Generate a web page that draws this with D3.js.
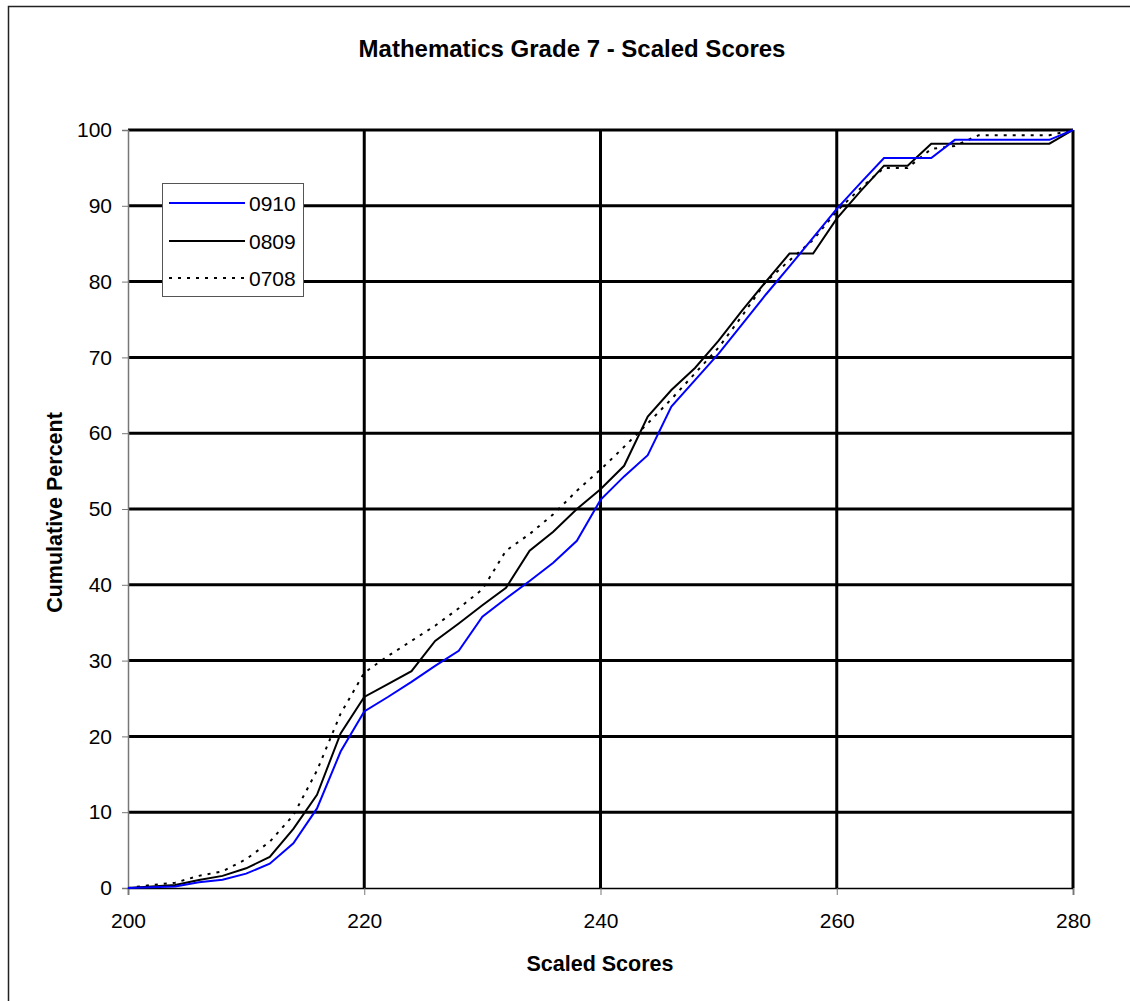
<!DOCTYPE html>
<html>
<head>
<meta charset="utf-8">
<script src="https://cdn.jsdelivr.net/npm/d3@7"></script>
<style>
  html, body { margin: 0; padding: 0; background: #fff; }
  svg { display: block; font-family: "Liberation Sans", Arial, sans-serif; }
</style>
</head>
<body>
<svg id="chart" width="1130" height="1001"></svg>
<script>
// ---- Data ----
const scores = [200,202,204,206,208,210,212,214,216,218,220,222,224,226,228,230,232,234,236,238,240,
                242,244,246,248,250,252,254,256,258,260,262,264,266,268,270,272,274,276,278,280];
const s0910 = [0,0.1,0.2,0.75,1.1,1.9,3.2,5.9,10.5,18.0,23.3,25.2,27.2,29.3,31.3,35.8,38.2,40.5,42.9,45.8,51.2,
               54.3,57.1,63.5,67.0,70.5,74.4,78.3,82.0,85.8,89.6,93.0,96.3,96.3,96.3,98.7,98.7,98.7,98.7,98.7,100];
const s0809 = [0,0.2,0.4,1.05,1.6,2.6,4.1,7.8,12.3,20.4,25.2,26.9,28.6,32.6,34.9,37.3,39.6,44.5,47.0,50.0,52.6,
               55.7,62.2,65.7,68.6,72.2,76.2,80.0,83.7,83.7,88.3,91.9,95.3,95.3,98.2,98.2,98.2,98.2,98.2,98.2,100];
const s0708 = [0,0.4,0.7,1.6,2.2,3.8,6.1,9.6,15.5,23.0,28.4,30.6,32.6,34.6,36.9,39.4,44.5,46.7,49.3,52.4,55.2,
               58.2,61.3,64.5,67.9,71.3,75.5,80.0,82.8,85.5,89.3,92.3,95.0,95.0,97.5,97.9,99.3,99.3,99.3,99.3,100];
const seriesNames = ["0910","0809","0708"];
const xTicks = [200,220,240,260,280];
const yTicks = [0,10,20,30,40,50,60,70,80,90,100];
const titleText = "Mathematics Grade 7 - Scaled Scores";
const xTitle = "Scaled Scores";
const yTitle = "Cumulative Percent";

// ---- Layout ----
const svg = d3.select("#chart");
const L = 128, R = 1073, T = 130, B = 888;
const x = d3.scaleLinear().domain([200,280]).range([L,R]);
const y = d3.scaleLinear().domain([0,100]).range([B,T]);

svg.append("rect").attr("width",1130).attr("height",1001).attr("fill","#fff");
// outer frame
svg.append("rect").attr("x",8.5).attr("y",6.5).attr("width",1140).attr("height",1010)
  .attr("fill","none").attr("stroke","#222").attr("stroke-width",1.5);

// gridlines
const g = svg.append("g");
g.selectAll("line.hg").data(yTicks.filter(d => d > 0)).join("line")
  .attr("x1",L).attr("x2",R).attr("y1",d=>y(d)).attr("y2",d=>y(d))
  .attr("stroke","#000").attr("stroke-width",3);
g.selectAll("line.vg").data(xTicks.filter(d => d > 200)).join("line")
  .attr("x1",d=>x(d)).attr("x2",d=>x(d)).attr("y1",T).attr("y2",B)
  .attr("stroke","#000").attr("stroke-width",3);

// axes
const yAxis = svg.append("g").attr("transform",`translate(${L},0)`)
  .call(d3.axisLeft(y).tickValues(yTicks).tickSize(6).tickPadding(10).tickFormat(d3.format("d")));
yAxis.select(".domain").attr("stroke","#777").attr("stroke-width",1.5);
yAxis.selectAll(".tick line").attr("stroke","#777");
yAxis.selectAll("text").attr("font-size",21).attr("fill","#000")
  .attr("font-family","'Liberation Sans', Arial, sans-serif");

const xAxis = svg.append("g").attr("transform",`translate(0,${B})`)
  .call(d3.axisBottom(x).tickValues(xTicks).tickSize(7).tickPadding(18).tickFormat(d3.format("d")));
xAxis.select(".domain").attr("stroke","#000").attr("stroke-width",1.5);
xAxis.selectAll(".tick line").attr("stroke","#777");
xAxis.selectAll("text").attr("font-size",21).attr("fill","#000")
  .attr("font-family","'Liberation Sans', Arial, sans-serif");

// series lines
const lineGen = d3.line().x((d,i)=>x(scores[i])).y(d=>y(d));
const styles = {
  "0910": {data: s0910, color: "#0000ff", dash: null},
  "0809": {data: s0809, color: "#000", dash: null},
  "0708": {data: s0708, color: "#000", dash: "3,6"}
};
["0708","0809","0910"].forEach(k => {
  const st = styles[k];
  svg.append("path").datum(st.data).attr("d",lineGen)
    .attr("fill","none").attr("stroke",st.color).attr("stroke-width",2)
    .attr("stroke-dasharray",st.dash);
});

// legend
const lg = svg.append("g");
lg.append("rect").attr("x",162.5).attr("y",183.5).attr("width",141).attr("height",113)
  .attr("fill","#fff").attr("stroke","#555").attr("stroke-width",1);
const ly = [203, 241, 278];
seriesNames.forEach((k,i) => {
  const st = styles[k];
  lg.append("line").attr("x1",169).attr("x2",245).attr("y1",ly[i]).attr("y2",ly[i])
    .attr("stroke",st.color).attr("stroke-width",2).attr("stroke-dasharray",st.dash);
  lg.append("text").attr("x",249).attr("y",ly[i]+7.5).attr("font-size",21).text(k);
});

// titles
svg.append("text").attr("x",572).attr("y",57).attr("text-anchor","middle")
  .attr("font-size",24).attr("font-weight","bold").text(titleText);
svg.append("text").attr("x",600).attr("y",971).attr("text-anchor","middle")
  .attr("font-size",21.5).attr("font-weight","bold").text(xTitle);
svg.append("text").attr("transform","translate(61.5,512.5) rotate(-90)").attr("text-anchor","middle")
  .attr("font-size",21.5).attr("font-weight","bold").text(yTitle);
</script>
</body>
</html>
